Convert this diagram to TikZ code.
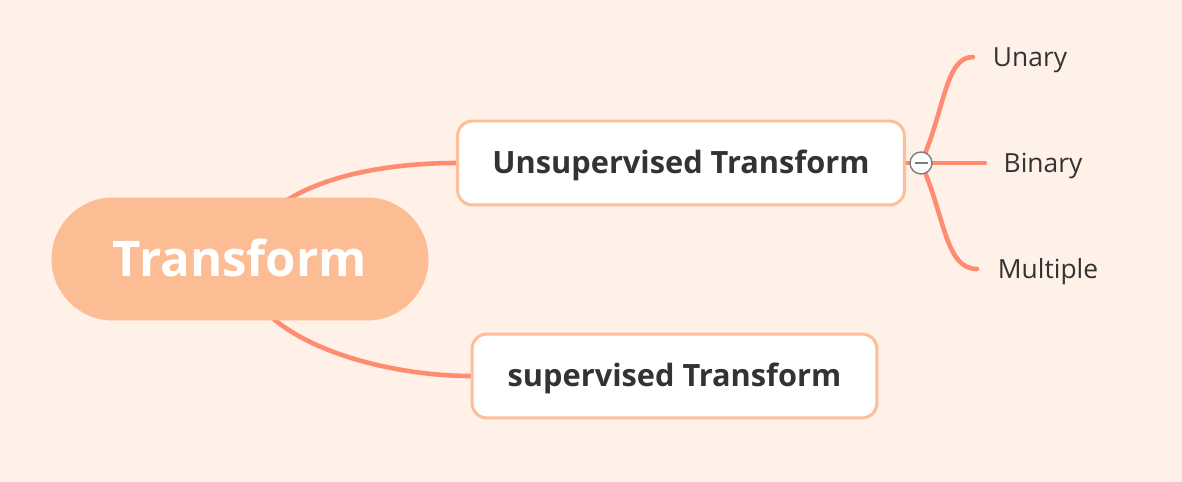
\documentclass[tikz,border=0pt]{standalone}
\usepackage{fontspec}
\setmainfont{Open Sans}
\usetikzlibrary{calc}
\definecolor{bgpeach}{RGB}{255,240,232}
\definecolor{rootfill}{RGB}{252,188,148}
\definecolor{boxline}{RGB}{253,190,152}
\definecolor{branch}{RGB}{255,140,112}
\definecolor{textdark}{RGB}{51,51,51}
\definecolor{foldgray}{RGB}{125,125,125}
\pgfdeclarelayer{bg}
\pgfdeclarelayer{edges}
\pgfsetlayers{bg,edges,main}
\tikzset{
	rootnode/.style={fill=rootfill, rounded corners=1.23cm, minimum width=7.54cm, minimum height=2.46cm, text height=20pt, text depth=0pt, text=white, font=\fontsize{28}{32}\selectfont\bfseries},
	subnode/.style={draw=boxline, fill=white, line width=1.7pt, rounded corners=0.3cm, minimum height=1.68cm, text height=12.5pt, text depth=0pt, text=textdark, font=\fontsize{17.5}{21}\selectfont\bfseries},
	leafnode/.style={text height=10.7pt, text depth=0pt, text=textdark, font=\fontsize{15}{18}\selectfont},
	branchline/.style={draw=branch, line width=2.6pt, line cap=round},
	foldnode/.style={circle, draw=foldgray, fill=white, line width=0.8pt, minimum size=0.44cm, inner sep=0pt}
}
\begin{document}
\begin{tikzpicture}[x=0.02cm, y=-0.02cm]
		%%%%% BACKGROUND %%%%%
		\begin{pgfonlayer}{bg}
			\fill[bgpeach] (0, 0) rectangle (1182, 482);
		\end{pgfonlayer}
		\useasboundingbox (0, 0) rectangle (1182, 482);
		
		%%%%% NODES %%%%%
		\node[rootnode] (root) at (240, 259) {Transform};
		\node[subnode, minimum width=8.94cm] (unsup) at (681, 163) {Unsupervised Transform};
		\node[subnode, minimum width=8.1cm] (sup) at (674.5, 376) {supervised Transform};
		\node[foldnode] (fold) at (921, 163) {};
		
		\node[leafnode] (unary) at (1030, 57) {Unary};
		\node[leafnode] (binary) at (1043, 163) {Binary};
		\node[leafnode] (multiple) at (1048, 269) {Multiple};
		\coordinate (unaryend) at (973, 57);
		\coordinate (binaryend) at (985, 163);
		\coordinate (multipleend) at (977, 269);
		
		%%%%% CONNECTORS %%%%%
		\begin{pgfonlayer}{edges}
			\draw[branchline] (root.center) .. controls (262, 180) and (380, 163) .. (unsup.west);
			\draw[branchline] (root.center) .. controls (245, 340) and (380, 376) .. (sup.west);
			\draw[branchline] (unsup.east) -- (fold.center);
			\draw[branchline] (fold.center) .. controls (945, 110) and (945, 57) .. (unaryend);
			\draw[branchline] (fold.center) -- (binaryend);
			\draw[branchline] (fold.center) .. controls (945, 216) and (945, 269) .. (multipleend);
		\end{pgfonlayer}
		
		\draw[foldgray, line width=1pt] ([xshift=-0.13cm]fold.center) -- ([xshift=0.13cm]fold.center);
\end{tikzpicture}
\end{document}
